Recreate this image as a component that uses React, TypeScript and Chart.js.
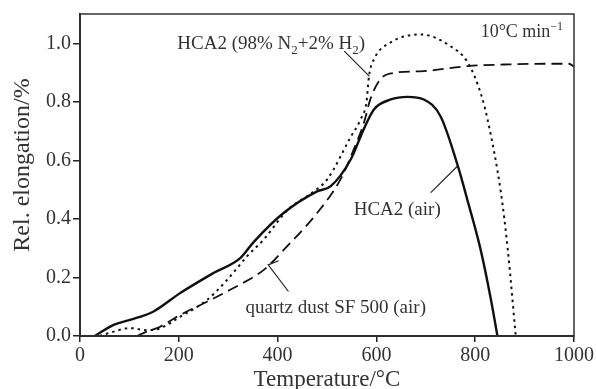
import React, { useEffect, useRef } from "react";
import { Chart, registerables } from "chart.js";

Chart.register(...registerables);

const tempAir = [30, 68, 101, 148, 203, 270, 325, 351, 412, 480, 507, 548, 574, 595, 629, 663, 696, 730, 765, 784, 811, 832, 845];
const elongAir = [0, 0.038, 0.055, 0.083, 0.147, 0.215, 0.267, 0.32, 0.42, 0.494, 0.511, 0.603, 0.705, 0.774, 0.808, 0.817, 0.808, 0.75, 0.58, 0.466, 0.295, 0.123, 0];

const tempN2 = [40, 68, 101, 135, 160, 203, 257, 298, 338, 372, 420, 470, 500, 548, 568, 580, 585, 595, 629, 690, 750, 785, 811, 825, 852, 866, 882];
const elongN2 = [0, 0.015, 0.027, 0.02, 0.025, 0.066, 0.123, 0.192, 0.272, 0.33, 0.43, 0.49, 0.534, 0.68, 0.74, 0.8, 0.888, 0.945, 1.003, 1.03, 0.99, 0.934, 0.83, 0.74, 0.49, 0.295, 0];

const tempQuartz = [115, 135, 160, 203, 257, 304, 372, 419, 480, 527, 554, 575, 588, 608, 629, 696, 785, 870, 953, 990, 1000];
const elongQuartz = [0, 0.015, 0.03, 0.072, 0.117, 0.158, 0.226, 0.306, 0.42, 0.534, 0.637, 0.73, 0.81, 0.877, 0.897, 0.905, 0.922, 0.928, 0.93, 0.93, 0.92];

const xTicks = [0, 200, 400, 600, 800, 1000];
const yTicks = [0, 0.2, 0.4, 0.6, 0.8, 1.0];

const SERIF = "'Liberation Serif', 'Times New Roman', serif";
const INK = "#222";

const toPts = (xs: number[], ys: number[]) => xs.map((x, i) => ({ x, y: ys[i] }));

type Seg = { t: string; sub?: boolean; sup?: boolean };

function drawRich(ctx: CanvasRenderingContext2D, segs: Seg[], x: number, y: number, size: number) {
  let cx = x;
  for (const s of segs) {
    const fs = s.sub || s.sup ? Math.round(size * 0.68) : size;
    ctx.font = `${fs}px ${SERIF}`;
    const dy = s.sub ? size * 0.28 : s.sup ? -size * 0.42 : 0;
    ctx.fillText(s.t, cx, y + dy);
    cx += ctx.measureText(s.t).width;
  }
}

const annotPlugin = {
  id: "annot",
  afterDatasetsDraw(chart: any) {
    const { ctx, chartArea, scales } = chart;
    const xs = scales.x;
    const ys = scales.y;
    const px = (v: number) => xs.getPixelForValue(v);
    const py = (v: number) => ys.getPixelForValue(v);
    ctx.save();
    // frame
    ctx.strokeStyle = "#333";
    ctx.lineWidth = 1.5;
    ctx.strokeRect(chartArea.left, chartArea.top, chartArea.right - chartArea.left, chartArea.bottom - chartArea.top);
    // leader lines
    ctx.strokeStyle = INK;
    ctx.lineWidth = 1.2;
    ctx.setLineDash([]);
    ctx.beginPath();
    ctx.moveTo(px(535), py(0.973));
    ctx.lineTo(px(586), py(0.887));
    ctx.moveTo(px(710), py(0.49));
    ctx.lineTo(px(764), py(0.58));
    ctx.moveTo(px(422), py(0.152));
    ctx.lineTo(px(381), py(0.243));
    ctx.lineTo(px(402), py(0.257));
    ctx.stroke();
    // texts
    ctx.fillStyle = "#333";
    ctx.textBaseline = "alphabetic";
    ctx.textAlign = "left";
    drawRich(ctx, [{ t: "HCA2 (98% N" }, { t: "2", sub: true }, { t: "+2% H" }, { t: "2", sub: true }, { t: ")" }], px(197), py(0.98), 19);
    drawRich(ctx, [{ t: "10°C min" }, { t: "−1", sup: true }], px(811), py(1.02), 18);
    drawRich(ctx, [{ t: "HCA2 (air)" }], px(554), py(0.414), 19);
    drawRich(ctx, [{ t: "quartz dust SF 500 (air)" }], px(335), py(0.079), 19);
    // y axis title
    ctx.save();
    ctx.translate(22.5, (chartArea.top + chartArea.bottom) / 2 - 10);
    ctx.rotate(-Math.PI / 2);
    ctx.textAlign = "center";
    ctx.textBaseline = "middle";
    ctx.font = `24px ${SERIF}`;
    ctx.fillText("Rel. elongation/%", 0, 0);
    ctx.restore();
    ctx.restore();
  },
};

export default function App() {
  const ref = useRef<HTMLCanvasElement | null>(null);
  useEffect(() => {
    if (!ref.current) return;
    const lineCommon = {
      borderColor: "#111",
      pointRadius: 0,
      cubicInterpolationMode: "monotone" as const,
      fill: false,
    };
    const chart = new Chart(ref.current, {
      type: "line",
      data: {
        datasets: [
          {
            ...lineCommon,
            label: "HCA2 (air)",
            data: toPts(tempAir, elongAir),
            borderWidth: 2.4,
          },
          {
            ...lineCommon,
            label: "HCA2 (98% N2+2% H2)",
            data: toPts(tempN2, elongN2),
            borderWidth: 2,
            borderDash: [2.5, 4],
          },
          {
            ...lineCommon,
            label: "quartz dust SF 500 (air)",
            data: toPts(tempQuartz, elongQuartz),
            borderWidth: 1.8,
            borderDash: [11, 6],
          },
        ],
      },
      options: {
        animation: false,
        responsive: false,
        maintainAspectRatio: false,
        layout: { padding: { left: 0, right: 22, top: 14, bottom: 0 } },
        plugins: { legend: { display: false }, tooltip: { enabled: false } },
        scales: {
          x: {
            type: "linear",
            min: 0,
            max: 1000,
            afterFit: (s: any) => {
              s.height = 53;
            },
            afterBuildTicks: (s: any) => {
              s.ticks = xTicks.map((v) => ({ value: v }));
            },
            border: { display: true, color: "#222", width: 2 },
            grid: { display: true, drawOnChartArea: false, drawTicks: true, tickLength: 6, color: "#222", lineWidth: 1.5 },
            ticks: {
              color: "#333",
              padding: 2,
              maxRotation: 0,
              font: { family: SERIF, size: 20 },
              callback: (v: any) => String(v),
            },
            title: {
              display: true,
              text: "Temperature/°C",
              color: "#333",
              font: { family: SERIF, size: 23, lineHeight: 1 },
              padding: { top: 0, bottom: -2 },
            },
          },
          y: {
            type: "linear",
            min: 0,
            max: 1.1,
            afterFit: (s: any) => {
              s.width = 80;
            },
            afterBuildTicks: (s: any) => {
              s.ticks = yTicks.map((v) => ({ value: v }));
            },
            border: { display: true, color: "#222", width: 2 },
            grid: { display: true, drawOnChartArea: false, drawTicks: true, tickLength: 7, color: "#222", lineWidth: 1.5 },
            ticks: {
              color: "#333",
              padding: 2,
              font: { family: SERIF, size: 20 },
              callback: (v: any) => Number(v).toFixed(1),
            },
            title: { display: false },
          },
        },
      },
      plugins: [annotPlugin],
    });
    return () => chart.destroy();
  }, []);
  return (
    <div style={{ position: "fixed", left: 0, top: 0, width: 596, height: 389, background: "#fff" }}>
      <canvas ref={ref} width={596} height={389} style={{ width: 596, height: 389, display: "block" }} />
    </div>
  );
}
